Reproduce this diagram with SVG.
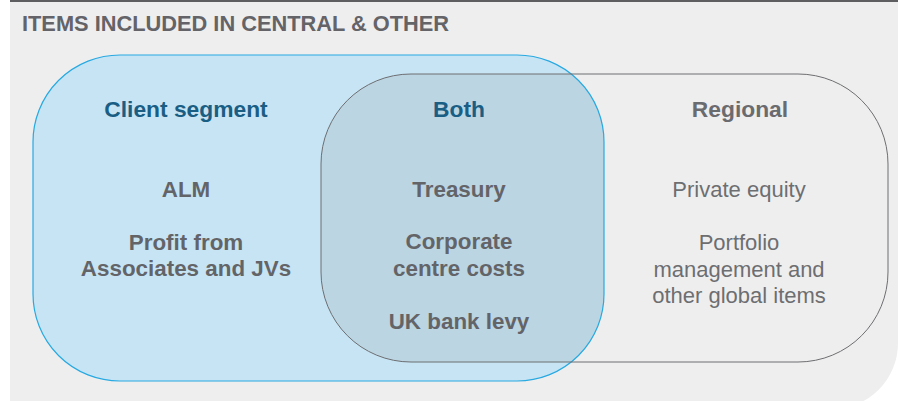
<svg xmlns="http://www.w3.org/2000/svg" width="898" height="401" viewBox="0 0 898 401">
<style>
text{font-family:"Liberation Sans",Arial,sans-serif;text-anchor:middle}
.h{font-size:22.8px;font-weight:bold;fill:#1a5e84}
.hg{font-size:22.8px;font-weight:bold;fill:#6a6b6f}
.b{font-size:22.4px;font-weight:bold;fill:#636468}
.r{font-size:22px;fill:#6d6e71}
</style>
<defs>
<clipPath id="clipBlue"><rect x="33" y="55" width="571" height="326" rx="87" ry="87"/></clipPath>
</defs>
<rect x="0" y="0" width="898" height="401" fill="#ffffff"/>
<path d="M10,0 H898 V343 A66,66 0 0 1 832,409 H10 Z" fill="#efeeef"/>
<rect x="10" y="0" width="888" height="2" fill="#5e5e61"/>
<text x="22" y="31" style="text-anchor:start;font-size:21.8px;font-weight:bold;fill:#636368">ITEMS INCLUDED IN CENTRAL &amp; OTHER</text>
<g id="client">
<rect x="33" y="55" width="571" height="326" rx="87" ry="87" fill="#c7e4f4"/>
</g>
<g id="overlap">
<rect x="321" y="74" width="567" height="288" rx="90" ry="90" fill="#bcd5e3" clip-path="url(#clipBlue)"/>
</g>
<g id="outlines">
<rect x="33" y="55" width="571" height="326" rx="87" ry="87" fill="none" stroke="#27a9e1" stroke-width="1.2"/>
<rect x="321" y="74" width="567" height="288" rx="90" ry="90" fill="none" stroke="#6d6e71" stroke-width="1"/>
</g>
<g id="client-text">
<text class="h" x="186" y="117">Client segment</text>
<text class="b" x="186" y="197">ALM</text>
<text class="b" x="186" y="250">Profit from</text>
<text class="b" x="186" y="276">Associates and JVs</text>
</g>
<g id="both-text">
<text class="h" x="459" y="117">Both</text>
<text class="b" x="459" y="197">Treasury</text>
<text class="b" x="459" y="249">Corporate</text>
<text class="b" x="459" y="276">centre costs</text>
<text class="b" x="459" y="329">UK bank levy</text>
</g>
<g id="regional-text">
<text class="hg" x="740" y="117">Regional</text>
<text class="r" x="739" y="197">Private equity</text>
<text class="r" x="739" y="250">Portfolio</text>
<text class="r" x="739" y="277">management and</text>
<text class="r" x="739" y="303">other global items</text>
</g>
</svg>
